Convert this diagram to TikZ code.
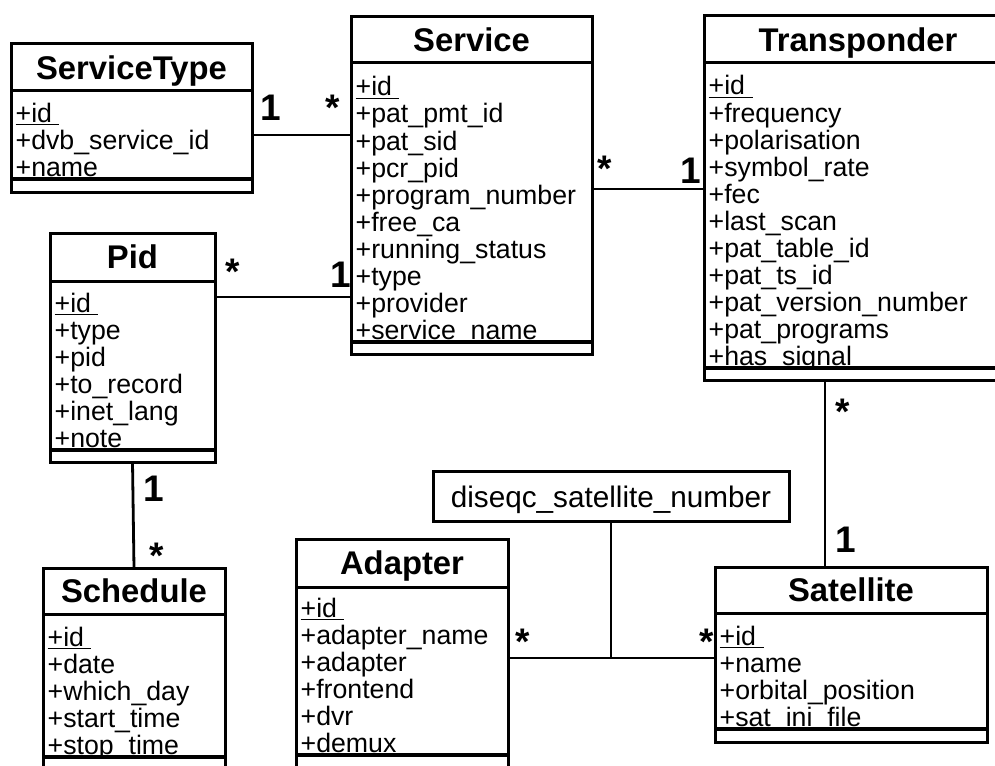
\documentclass[tikz,border=0pt]{standalone}
\usepackage{fontspec}
\setmainfont{Liberation Sans}

% underlined first attribute (the key), trailing space included
\newcommand\idattr[1]{\setbox0=\hbox{#1\ }\rlap{\rule[-3.4pt]{\wd0}{1.6pt}}\box0}

\tikzset{
  x=1pt, y=-1pt,
  classbox/.style={draw, line width=3pt, inner sep=0pt, outer sep=0pt, anchor=north west},
  titlerule/.style={line width=3pt},
  attrrule/.style={line width=3.6pt},
  attrtext/.style={inner sep=0pt, anchor=base west, font=\fontsize{26.7}{27}\selectfont},
  titletext/.style={inner sep=0pt, anchor=base, font=\fontsize{32.8}{34}\selectfont\bfseries},
  mult/.style={inner sep=0pt, anchor=base, font=\fontsize{37}{38}\selectfont\bfseries},
  assoc/.style={line width=2.8pt},
  assocclass/.style={draw, line width=3pt, inner sep=0pt, outer sep=0pt,
    minimum width=356pt, minimum height=50pt, text height=28pt, text depth=6pt,
    font=\fontsize{29.7}{30}\selectfont},
}

% #1 name, #2 left, #3 top, #4 right, #5 title rule, #6 attribute rule,
% #7 bottom, #8 title, #9 attributes
\newcommand\umlclass[9]{%
  \foreach \attrname [count=\idx] in {#9} {\xdef\nattr{\idx}}%
  \foreach \attrname [count=\idx] in {#9} {%
    \pgfmathsetmacro\yb{#6-3-(\nattr-\idx)*27}%
    \node[attrtext] (#1-a\idx) at (#2+4.5,\yb)
      {\ifnum\idx=1 \idattr{\attrname}\else\attrname\fi};
  }%
  \fill[white] (#2,#6) rectangle (#4,#7);
  \draw[titlerule] (#2,#5) -- (#4,#5);
  \draw[attrrule] (#2,#6) -- (#4,#6);
  \node[titletext] (#1-t) at ({(#2+#4)/2},{(#3+#5)/2+11.7}) {#8};
  \node[classbox, minimum width={(#4-#2)*1pt}, minimum height={(#7-#3)*1pt}] (#1) at (#2,#3) {};
}

\begin{document}
\begin{tikzpicture}
\useasboundingbox (0,0) rectangle (995,765);
\fill[white] (0,0) rectangle (995,765);

\umlclass{ServiceType}{11}{44}{252}{91}{179}{192}{ServiceType}
  {+id,+dvb\_service\_id,+name}
\umlclass{Service}{351}{17}{592}{63}{342}{354}{Service}
  {+id,+pat\_pmt\_id,+pat\_sid,+pcr\_pid,+program\_number,+free\_ca,
   +running\_status,+type,+provider,+service\_name}
\umlclass{Transponder}{704}{16}{1012}{63}{368}{380}{Transponder}
  {+id,+frequency,+polarisation,+symbol\_rate,+fec,+last\_scan,
   +pat\_table\_id,+pat\_ts\_id,+pat\_version\_number,+pat\_programs,+has\_signal}
\umlclass{Pid}{50}{233}{215}{281}{450}{462}{Pid}
  {+id,+type,+pid,+to\_record,+inet\_lang,+note}
\umlclass{Schedule}{43}{568}{225}{614}{757}{790}{Schedule}
  {+id,+date,+which\_day,+start\_time,+stop\_time}
\umlclass{Adapter}{296}{539}{508}{587}{755}{790}{Adapter}
  {+id,+adapter\_name,+adapter,+frontend,+dvr,+demux}
\umlclass{Satellite}{715}{567}{987}{613}{729}{742}{Satellite}
  {+id,+name,+orbital\_position,+sat\_ini\_file}

% association class
\node[assocclass] (dsn) at (611,496) {diseqc\_satellite\_number};

% connector levels
\coordinate (yST) at (0,135);
\coordinate (yPS) at (0,297);
\coordinate (yTR) at (0,189);
\coordinate (xTS) at (825,0);
\coordinate (yAS) at (0,658);

\draw[assoc] (ServiceType.east |- yST) -- (Service.west |- yST);
\draw[assoc] (Pid.east |- yPS) -- (Service.west |- yPS);
\draw[assoc] (Service.east |- yTR) -- (Transponder.west |- yTR);
\draw[assoc] (Transponder.south -| xTS) -- (Satellite.north -| xTS);
\draw[assoc] (Pid.south) -- (Schedule.north);
\draw[assoc] (Adapter.east |- yAS) -- (Satellite.west |- yAS);
\draw[assoc] (dsn.south) -- (dsn.south |- yAS);

% multiplicities
\node[mult] (m1) at (271,121) {1};
\node[mult] (m2) at (332.5,121) {*};
\node[mult] (m3) at (233,284) {*};
\node[mult] (m4) at (340.5,287) {1};
\node[mult] (m5) at (605,181) {*};
\node[mult] (m6) at (691,183) {1};
\node[mult] (m7) at (843,424) {*};
\node[mult] (m8) at (846,552) {1};
\node[mult] (m9) at (154,501) {1};
\node[mult] (m10) at (156.5,568) {*};
\node[mult] (m11) at (523,654) {*};
\node[mult] (m12) at (707,654) {*};
\end{tikzpicture}
\end{document}
